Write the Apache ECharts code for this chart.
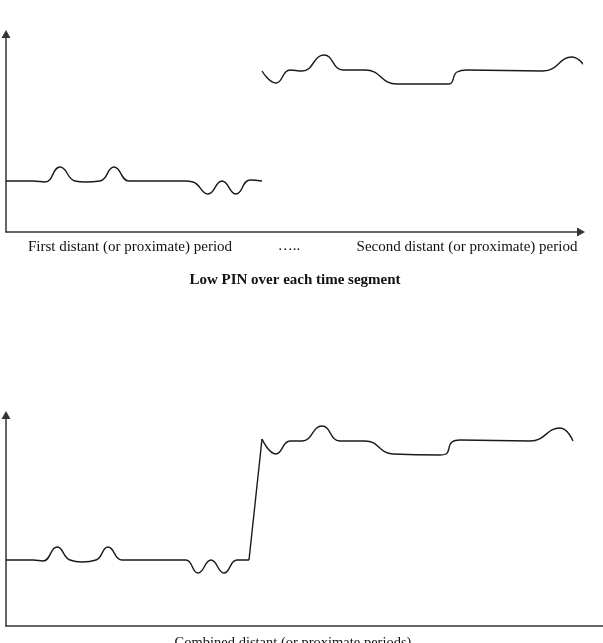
<!DOCTYPE html>
<html>
<head>
<meta charset="utf-8">
<script src="https://cdn.jsdelivr.net/npm/echarts@6/dist/echarts.min.js"></script>
<style>
  html, body { margin: 0; padding: 0; background: #fff; }
  #chart { width: 603px; height: 643px; }
</style>
</head>
<body>
<div id="chart"></div>
<script>
// values: [time, PIN level]
const firstPeriod = [
    [0, 51], [27, 51], [39, 50], [54, 65], [69, 51], [79, 50], [94, 51], [108, 65], [123, 51],
    [134, 51], [179, 51], [187, 50], [202, 38], [216, 51], [230, 38], [244, 52], [256, 51]
];
const secondPeriod = [
    [256, 161], [270, 149], [284, 162], [296, 161], [318, 177], [337, 162], [359, 162], [391, 148],
    [424, 148], [443, 148], [451, 160], [461, 162], [537, 161], [566, 175], [581, 162]
];
const combinedLow = [
    [0, 66], [27, 66], [37, 65], [51, 79], [64, 66], [76, 64], [90, 66], [102, 79], [116, 66],
    [129, 66], [174, 66], [180, 66], [192, 53], [205, 66], [218, 53], [231, 66], [243, 66]
];
const combinedHigh = [
    [256, 187], [270, 172], [284, 185], [296, 185], [316, 200], [334, 185], [359, 185], [387, 172],
    [434, 171], [440, 172], [446, 184], [454, 186], [524, 185], [554, 198], [567, 185]
];
const periodLabels = ['First distant (or proximate) period', '\u2026..', 'Second distant (or proximate) period'];
const topTitle = 'Low PIN over each time segment';
const bottomLabel = 'Combined distant (or proximate periods)';

const chart = echarts.init(document.getElementById('chart'));

const axisColor = '#333';
const serif = '"Liberation Serif", "DejaVu Serif", serif';

function axis(gridIndex, max, arrow) {
    return {
        type: 'value',
        gridIndex: gridIndex,
        min: 0,
        max: max,
        axisLine: {
            show: true,
            onZero: false,
            lineStyle: { color: axisColor, width: 1.5 },
            symbol: arrow ? ['none', 'triangle'] : 'none',
            symbolSize: [9, 8]
        },
        axisTick: { show: false },
        axisLabel: { show: false },
        splitLine: { show: false }
    };
}

function curve(data, xi, smooth) {
    return {
        type: 'line',
        xAxisIndex: xi,
        yAxisIndex: xi,
        data: data,
        smooth: smooth,
        symbol: 'none',
        clip: false,
        lineStyle: { color: '#1a1a1a', width: 1.4 }
    };
}

function label(text, x, y, size, bold) {
    return {
        type: 'text',
        x: x,
        y: y,
        style: {
            text: text,
            font: (bold ? 'bold ' : '') + size + 'px ' + serif,
            fill: '#111',
            align: 'center',
            verticalAlign: 'middle',
            textAlign: 'center',
            textVerticalAlign: 'middle'
        }
    };
}

chart.setOption({
    animation: false,
    backgroundColor: '#fff',
    grid: [
        { left: 6, right: 22, top: 34, bottom: 411 },
        { left: 6, right: 0, top: 415, bottom: 17 }
    ],
    xAxis: [axis(0, 575, true), axis(1, 597, false)],
    yAxis: [axis(0, 198, true), axis(1, 211, true)],
    series: [
        curve(firstPeriod, 0, 0.5),
        curve(secondPeriod, 0, 0.5),
        curve(combinedLow, 1, 0.5),
        curve([combinedLow[combinedLow.length - 1], combinedHigh[0]], 1, false),
        curve(combinedHigh, 1, 0.5)
    ],
    graphic: [
        label(periodLabels[0], 130, 247, 15),
        label(periodLabels[1], 289, 246, 15),
        label(periodLabels[2], 467, 247, 15),
        label(topTitle, 295, 280, 15, true),
        label(bottomLabel, 293, 643, 14.5)
    ]
});
</script>
</body>
</html>
